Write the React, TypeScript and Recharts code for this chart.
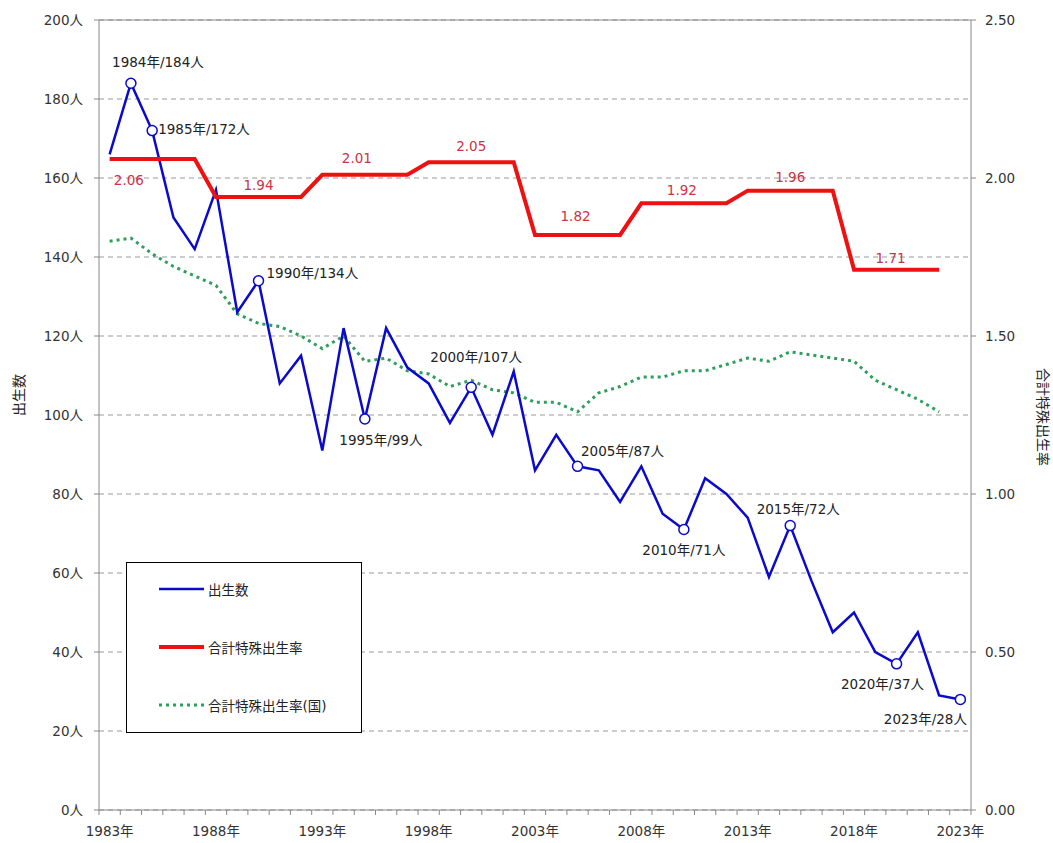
import {
  LineChart,
  Line,
  XAxis,
  YAxis,
  CartesianGrid,
  Legend,
  LabelList,
  ReferenceLine,
  Label,
} from "recharts";

// データ（1983年〜2023年）
const years = [
  "1983", "1984", "1985", "1986", "1987", "1988", "1989", "1990", "1991", "1992",
  "1993", "1994", "1995", "1996", "1997", "1998", "1999", "2000", "2001", "2002",
  "2003", "2004", "2005", "2006", "2007", "2008", "2009", "2010", "2011", "2012",
  "2013", "2014", "2015", "2016", "2017", "2018", "2019", "2020", "2021", "2022",
  "2023",
];

const births = [
  166, 184, 172, 150, 142, 157, 126, 134, 108, 115,
  91, 122, 99, 122, 112, 108, 98, 107, 95, 111,
  86, 95, 87, 86, 78, 87, 75, 71, 84, 80,
  74, 59, 72, 58, 45, 50, 40, 37, 45, 29,
  28,
];

// 合計特殊出生率（5年ごとの値）
const cityRate = [
  2.06, 2.06, 2.06, 2.06, 2.06, 1.94, 1.94, 1.94, 1.94, 1.94,
  2.01, 2.01, 2.01, 2.01, 2.01, 2.05, 2.05, 2.05, 2.05, 2.05,
  1.82, 1.82, 1.82, 1.82, 1.82, 1.92, 1.92, 1.92, 1.92, 1.92,
  1.96, 1.96, 1.96, 1.96, 1.96, 1.71, 1.71, 1.71, 1.71, 1.71,
  null,
];

// 合計特殊出生率（国）
const nationalRate = [
  1.8, 1.81, 1.76, 1.72, 1.69, 1.66, 1.57, 1.54, 1.53, 1.5,
  1.46, 1.5, 1.42, 1.43, 1.39, 1.38, 1.34, 1.36, 1.33, 1.32,
  1.29, 1.29, 1.26, 1.32, 1.34, 1.37, 1.37, 1.39, 1.39, 1.41,
  1.43, 1.42, 1.45, 1.44, 1.43, 1.42, 1.36, 1.33, 1.3, 1.26,
  null,
];

const birthLabelYears = ["1984", "1985", "1990", "1995", "2000", "2005", "2010", "2015", "2020", "2023"];
const rateLabelYears = ["1984", "1990", "1995", "2000", "2005", "2010", "2015", "2020"];
const xTickYears = ["1983", "1988", "1993", "1998", "2003", "2008", "2013", "2018", "2023"];
const leftTicks = [0, 20, 40, 60, 80, 100, 120, 140, 160, 180, 200];
const rightTicks = [0, 0.5, 1, 1.5, 2, 2.5];

const data = years.map((year, i) => ({
  year,
  births: births[i],
  rate: cityRate[i],
  national: nationalRate[i],
}));

const FONT = '"DejaVu Sans", "Noto Sans CJK JP", sans-serif';
const BLUE = "#0a0acc";
const RED = "#ee1111";
const GREEN = "#2e9e5b";
const AXIS = "#888";

const WIDTH = 1053;
const HEIGHT = 843;
const LEFT_W = 99;
const RIGHT_W = 82;
const PLOT_W = WIDTH - LEFT_W - RIGHT_W;
const BAND = PLOT_W / years.length;

// ラベル位置の微調整
const birthLabelPos: Record<string, { dx: number; dy: number; anchor: "start" | "middle" }> = {
  "1984": { dx: 27, dy: -21, anchor: "middle" },
  "1985": { dx: 6, dy: -2, anchor: "start" },
  "1990": { dx: 8, dy: -8, anchor: "start" },
  "1995": { dx: 16, dy: 21, anchor: "middle" },
  "2000": { dx: 5, dy: -30, anchor: "middle" },
  "2005": { dx: 45, dy: -15, anchor: "middle" },
  "2010": { dx: 0, dy: 20, anchor: "middle" },
  "2015": { dx: 8, dy: -17, anchor: "middle" },
  "2020": { dx: -14, dy: 20, anchor: "middle" },
  "2023": { dx: -35, dy: 20, anchor: "middle" },
};

const rateLabelPos: Record<string, { dx: number; dy: number }> = {
  "1984": { dx: -2, dy: 21 },
  "1990": { dx: 0, dy: -12 },
  "1995": { dx: -8, dy: -17 },
  "2000": { dx: 0, dy: -16 },
  "2005": { dx: -2, dy: -19 },
  "2010": { dx: -2, dy: -13 },
  "2015": { dx: 0, dy: -14 },
  "2020": { dx: -6, dy: -12 },
};

// eslint-disable-next-line @typescript-eslint/no-explicit-any
const XTick = (props: any) => {
  const { x, y, payload, index } = props;
  const half = BAND / 2;
  return (
    <g>
      <line x1={x - half} x2={x - half} y1={y} y2={y + 5} stroke={AXIS} />
      {index === years.length - 1 && (
        <line x1={x + half} x2={x + half} y1={y} y2={y + 5} stroke={AXIS} />
      )}
      {xTickYears.includes(payload.value) && (
        <text x={x} y={y + 26} textAnchor="middle" fontSize={13.5} fill="#333" fontFamily={FONT}>
          {payload.value}年
        </text>
      )}
    </g>
  );
};

// eslint-disable-next-line @typescript-eslint/no-explicit-any
const BirthDot = (props: any) => {
  const { cx, cy, payload } = props;
  if (!birthLabelYears.includes(payload.year)) return <g key={`d-${payload.year}`} />;
  return (
    <circle
      key={`d-${payload.year}`}
      cx={cx}
      cy={cy}
      r={5}
      fill="#fff"
      stroke={BLUE}
      strokeWidth={1.5}
    />
  );
};

// eslint-disable-next-line @typescript-eslint/no-explicit-any
const BirthLabel = (props: any) => {
  const { x, y, index, value } = props;
  const year = years[index];
  const pos = birthLabelPos[year];
  if (!pos) return null;
  return (
    <text
      x={x + pos.dx}
      y={y + pos.dy}
      textAnchor={pos.anchor}
      dominantBaseline="central"
      fontSize={13.5}
      fill="#222"
      fontFamily={FONT}
    >
      {year}年/{value}人
    </text>
  );
};

// eslint-disable-next-line @typescript-eslint/no-explicit-any
const RateLabel = (props: any) => {
  const { x, y, index, value } = props;
  const year = years[index];
  const pos = rateLabelPos[year];
  if (!pos || value == null) return null;
  return (
    <text
      x={x + pos.dx}
      y={y + pos.dy}
      textAnchor="middle"
      dominantBaseline="central"
      fontSize={13.5}
      fill="#cc3344"
      fontFamily={FONT}
    >
      {Number(value).toFixed(2)}
    </text>
  );
};

const legendItems = [
  { name: "出生数", color: BLUE, width: 2.5, dash: undefined },
  { name: "合計特殊出生率", color: RED, width: 4, dash: undefined },
  { name: "合計特殊出生率(国)", color: GREEN, width: 3, dash: "3 4" },
];

const LegendBox = () => (
  <div
    style={{
      width: 236,
      height: 171,
      border: "1px solid #000",
      boxSizing: "border-box",
      background: "#fff",
      position: "relative",
      fontFamily: FONT,
      fontSize: 13.5,
      color: "#222",
    }}
  >
    {legendItems.map((item, i) => (
      <div
        key={item.name}
        style={{
          position: "absolute",
          left: 31,
          top: 15 + i * 58,
          height: 22,
          display: "flex",
          alignItems: "center",
        }}
      >
        <svg width={50} height={22}>
          <line
            x1={1}
            x2={46}
            y1={11}
            y2={11}
            stroke={item.color}
            strokeWidth={item.width}
            strokeDasharray={item.dash}
          />
        </svg>
        <span>{item.name}</span>
      </div>
    ))}
  </div>
);

export default function App() {
  return (
    <div style={{ width: WIDTH, height: HEIGHT, background: "#fff" }}>
      <style>{`body{margin:0}`}</style>
      <LineChart
        width={WIDTH}
        height={HEIGHT}
        data={data}
        margin={{ top: 20, right: 0, bottom: 0, left: 0 }}
        style={{ fontFamily: FONT }}
      >
        <CartesianGrid
          vertical={false}
          yAxisId="left"
          stroke="#999"
          strokeDasharray="5 4"
        />
        <XAxis
          dataKey="year"
          interval={0}
          height={33}
          padding={{ left: BAND / 2, right: BAND / 2 }}
          tickSize={0}
          tickMargin={0}
          tickLine={false}
          axisLine={{ stroke: AXIS }}
          tick={<XTick />}
        />
        <YAxis
          yAxisId="left"
          width={LEFT_W}
          domain={[0, 200]}
          ticks={leftTicks}
          interval={0}
          tickFormatter={(v: number) => `${v}人`}
          tickSize={5}
          tickMargin={11}
          axisLine={{ stroke: AXIS }}
          tickLine={{ stroke: AXIS }}
          tick={{ fill: "#333", fontSize: 13.5, fontFamily: FONT }}
        >
          <Label
            content={() => (
              <text
                transform="translate(19,395) rotate(-90)"
                textAnchor="middle"
                dominantBaseline="central"
                fontSize={14}
                fill="#222"
                fontFamily={FONT}
              >
                出生数
              </text>
            )}
          />
        </YAxis>
        <YAxis
          yAxisId="right"
          orientation="right"
          width={RIGHT_W}
          domain={[0, 2.5]}
          ticks={rightTicks}
          interval={0}
          tickFormatter={(v: number) => v.toFixed(2)}
          tickSize={5}
          tickMargin={9}
          axisLine={{ stroke: AXIS }}
          tickLine={{ stroke: AXIS }}
          tick={{ fill: "#333", fontSize: 13.5, fontFamily: FONT }}
        >
          <Label
            content={() => (
              <text
                transform="translate(1043,417) rotate(90)"
                textAnchor="middle"
                dominantBaseline="central"
                fontSize={14}
                fill="#222"
                fontFamily={FONT}
              >
                合計特殊出生率
              </text>
            )}
          />
        </YAxis>
        <ReferenceLine yAxisId="left" y={200} stroke={AXIS} />
        <Line
          yAxisId="right"
          dataKey="national"
          name="合計特殊出生率(国)"
          stroke={GREEN}
          strokeWidth={3}
          strokeDasharray="3 4"
          dot={false}
          activeDot={false}
          isAnimationActive={false}
        />
        <Line
          yAxisId="left"
          dataKey="births"
          name="出生数"
          stroke={BLUE}
          strokeWidth={2.5}
          dot={<BirthDot />}
          activeDot={false}
          isAnimationActive={false}
        >
          <LabelList dataKey="births" content={<BirthLabel />} />
        </Line>
        <Line
          yAxisId="right"
          dataKey="rate"
          name="合計特殊出生率"
          stroke={RED}
          strokeWidth={4}
          strokeLinejoin="miter"
          dot={false}
          activeDot={false}
          isAnimationActive={false}
        >
          <LabelList dataKey="rate" content={<RateLabel />} />
        </Line>
        <Legend
          layout="vertical"
          align="center"
          verticalAlign="middle"
          width={236}
          height={171}
          wrapperStyle={{ left: 126, top: 562, width: 236, height: 171 }}
          content={() => <LegendBox />}
        />
      </LineChart>
    </div>
  );
}
